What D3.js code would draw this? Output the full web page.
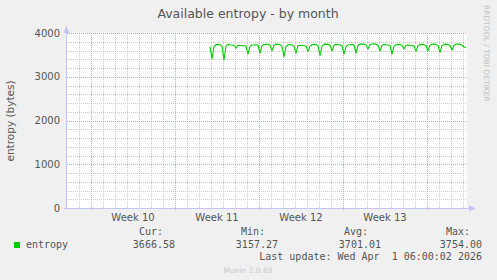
<!DOCTYPE html>
<html><head><meta charset="utf-8">
<script src="https://cdn.jsdelivr.net/npm/d3@7"></script>
<style>
html,body{margin:0;padding:0;background:#F0F0F0;}
svg{display:block;}
</style></head>
<body>
<script>
// ---- data ----
const title = "Available entropy - by month";
const yLabel = "entropy (bytes)";
const seriesName = "entropy";
const yTicks = [0, 1000, 2000, 3000, 4000];
const weekLabels = ["Week 10", "Week 11", "Week 12", "Week 13"];
const weekStarts = ["2026-03-02", "2026-03-09", "2026-03-16", "2026-03-23"];
const timeDomain = ["2026-02-28T00:00:00Z", "2026-04-02T08:00:00Z"];
const dataStart = "2026-03-11T22:00:00Z";
const stepHours = 4;
const entropy = [
  3690,
  3405, 3690, 3735, 3740, 3730, 3700,
  3385, 3700, 3740, 3730, 3725, 3720,
  3650, 3720, 3715, 3710, 3710, 3700,
  3515, 3700, 3725, 3725, 3730, 3720,
  3540, 3710, 3735, 3740, 3740, 3720,
  3590, 3720, 3745, 3740, 3735, 3700,
  3460, 3690, 3730, 3735, 3725, 3700,
  3540, 3710, 3720, 3715, 3710, 3700,
  3580, 3700, 3730, 3740, 3735, 3710,
  3480, 3700, 3740, 3745, 3740, 3720,
  3590, 3720, 3740, 3735, 3730, 3710,
  3515, 3690, 3725, 3730, 3740, 3720,
  3540, 3720, 3745, 3750, 3745, 3730,
  3635, 3730, 3750, 3754, 3745, 3720,
  3590, 3720, 3735, 3730, 3725, 3710,
  3515, 3700, 3730, 3740, 3735, 3720,
  3635, 3720, 3725, 3720, 3715, 3700,
  3580, 3710, 3735, 3740, 3730, 3710,
  3590, 3720, 3745, 3750, 3740, 3710,
  3560, 3710, 3740, 3745, 3735, 3715,
  3610, 3720, 3745, 3750, 3745, 3720,
  3680, 3667
];
const legendHeads = ["Cur:", "Min:", "Avg:", "Max:"];
const legendValues = ["3666.58", "3157.27", "3701.01", "3754.00"];
const lastUpdate = "Last update: Wed Apr  1 06:00:02 2026";
const footer = "Munin 2.0.69";
const watermark = "RRDTOOL / TOBI OETIKER";

// ---- drawing ----
const W = 497, H = 280;
const svg = d3.select("body").append("svg").attr("width", W).attr("height", H);
svg.append("rect").attr("width", W).attr("height", H).attr("fill", "#F0F0F0");

const x = d3.scaleUtc().domain(timeDomain.map(d => new Date(d))).range([67, 467]);
const y = d3.scaleLinear().domain([0, 4000]).range([208, 33]);

svg.append("rect").attr("x", 67).attr("y", 33).attr("width", 400).attr("height", 175).attr("fill", "#FFFFFF");

const grid = svg.append("g").attr("shape-rendering", "crispEdges");
const minorCol = "#CCCCCC", majorCol = "#E6A0A0";
function hDots(py, x0, x1, col) {
  grid.append("g").selectAll("rect").data(d3.range(x0, x1, 2)).join("rect")
    .attr("x", d => d).attr("y", py).attr("width", 1).attr("height", 1).attr("fill", col);
}
function vDots(px, y0, y1, col) {
  grid.append("g").selectAll("rect").data(d3.range(y0, y1, 2)).join("rect")
    .attr("x", px).attr("y", d => d).attr("width", 1).attr("height", 1).attr("fill", col);
}
// horizontal minor
d3.range(0, 4001, 200).filter(v => v % 1000 !== 0).forEach(v => hDots(Math.round(y(v)), 67, 467, minorCol));
// vertical minor (days)
d3.utcDay.range(x.domain()[0], x.domain()[1]).forEach(d => {
  if (d.getUTCDay() === 1) return;
  const px = Math.round(x(d));
  if (px <= 68) return;
  vDots(px, 33, 208, minorCol);
});
// horizontal major
yTicks.filter(v => v > 0).forEach(v => hDots(Math.round(y(v)), 67, 467, majorCol));
// vertical major (Mondays)
d3.utcMonday.range(x.domain()[0], x.domain()[1]).forEach(d => vDots(Math.round(x(d)), 33, 211, majorCol));

// axes
const axisCol = "#C4C4F0";
const ax = svg.append("g").attr("shape-rendering", "crispEdges");
ax.append("line").attr("x1", 66.5).attr("x2", 66.5).attr("y1", 29).attr("y2", 209).attr("stroke", axisCol);
ax.append("line").attr("x1", 64).attr("x2", 470).attr("y1", 208.5).attr("y2", 208.5).attr("stroke", axisCol);
svg.append("path").attr("d", "M63.5,33 L66.5,26 L69.5,33 Z").attr("fill", axisCol);
svg.append("path").attr("d", "M469,205.5 L476,208.5 L469,211.5 Z").attr("fill", axisCol);

// y tick labels
svg.append("g").selectAll("text").data(yTicks).join("text")
  .attr("x", 60).attr("y", d => y(d) + 3.5).attr("text-anchor", "end")
  .attr("font-family", "DejaVu Sans").attr("font-size", 10).attr("fill", "#555")
  .text(d => d);

// week labels
svg.append("g").selectAll("text").data(weekLabels).join("text")
  .attr("x", (d, i) => x(d3.utcHour.offset(new Date(weekStarts[i] + "T00:00:00Z"), 84)))
  .attr("y", 221).attr("text-anchor", "middle")
  .attr("font-family", "DejaVu Sans").attr("font-size", 10).attr("fill", "#555")
  .text(d => d);

// data line
const pts = entropy.map((v, i) => ({ t: d3.utcHour.offset(new Date(dataStart), i * stepHours), v }));
svg.append("path").datum(pts)
  .attr("d", d3.line().x(d => x(d.t)).y(d => y(d.v)))
  .attr("fill", "none").attr("stroke", "#00CC00").attr("stroke-width", 1.1).attr("stroke-linejoin", "round");

// title
svg.append("text").attr("x", 248).attr("y", 18).attr("text-anchor", "middle")
  .attr("font-family", "DejaVu Sans").attr("font-size", 12.5).attr("fill", "#555").text(title);

// y label
svg.append("text").attr("transform", "translate(14,121) rotate(-90)").attr("text-anchor", "middle")
  .attr("font-family", "DejaVu Sans").attr("font-size", 10.5).attr("fill", "#555").text(yLabel);

// watermark
svg.append("text").attr("transform", "translate(484,5) rotate(90)").attr("text-anchor", "start")
  .attr("font-family", "DejaVu Sans").attr("font-size", 7.5).attr("fill", "#C0C0C0").text(watermark);

// legend
const mono = "DejaVu Sans Mono";
svg.append("rect").attr("x", 14).attr("y", 242).attr("width", 6).attr("height", 6).attr("fill", "#00CC00");
svg.append("text").attr("x", 26).attr("y", 247.5).attr("font-family", mono).attr("font-size", 10).attr("fill", "#555").text(seriesName);
const headX = [163, 265, 368, 470];
const valX = [175, 278, 381, 482];
svg.append("g").selectAll("text").data(legendHeads).join("text")
  .attr("x", (d, i) => headX[i]).attr("y", 235).attr("text-anchor", "end")
  .attr("font-family", mono).attr("font-size", 10).attr("fill", "#555").text(d => d);
svg.append("g").selectAll("text").data(legendValues).join("text")
  .attr("x", (d, i) => valX[i]).attr("y", 247.5).attr("text-anchor", "end")
  .attr("font-family", mono).attr("font-size", 10).attr("fill", "#555").text(d => d);
svg.append("text").attr("x", 482).attr("y", 260).attr("text-anchor", "end").attr("xml:space", "preserve")
  .style("white-space", "pre")
  .attr("font-family", mono).attr("font-size", 10).attr("fill", "#555").text(lastUpdate);
svg.append("text").attr("x", 248).attr("y", 273).attr("text-anchor", "middle")
  .attr("font-family", "DejaVu Sans").attr("font-size", 7.5).attr("fill", "#C8C8C8").text(footer);
</script>
</body></html>
